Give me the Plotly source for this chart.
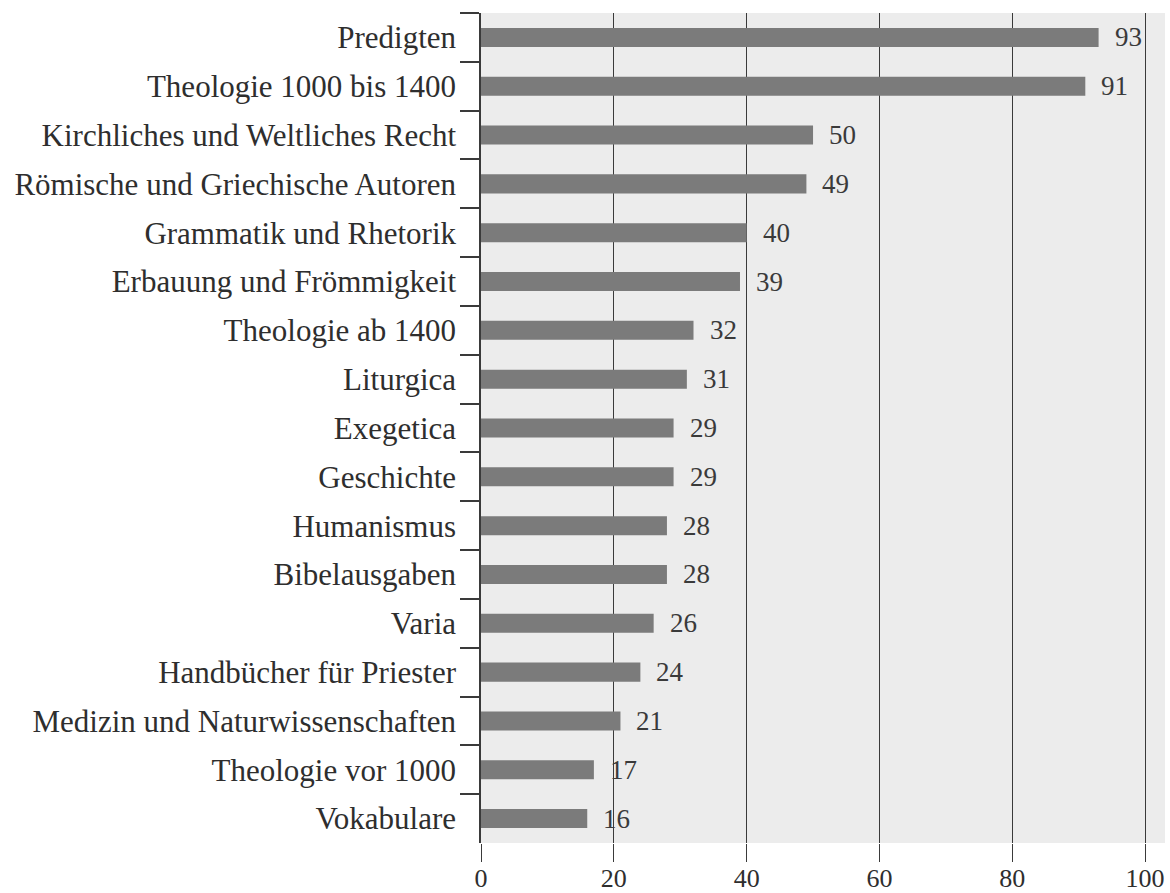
import plotly.graph_objects as go

categories = [
    "Predigten", "Theologie 1000 bis 1400", "Kirchliches und Weltliches Recht",
    "Römische und Griechische Autoren", "Grammatik und Rhetorik",
    "Erbauung und Frömmigkeit", "Theologie ab 1400", "Liturgica", "Exegetica",
    "Geschichte", "Humanismus", "Bibelausgaben", "Varia",
    "Handbücher für Priester", "Medizin und Naturwissenschaften",
    "Theologie vor 1000", "Vokabulare",
]
values = [93, 91, 50, 49, 40, 39, 32, 31, 29, 29, 28, 28, 26, 24, 21, 17, 16]
x_ticks = [0, 20, 40, 60, 80, 100]

FONT = "Liberation Serif"
INK = "#2e2e2e"

fig = go.Figure(go.Bar(
    x=values, y=categories, orientation="h",
    marker=dict(color="#7b7b7b", line=dict(width=0)),
    width=0.39,
))

for c, v in zip(categories, values):
    fig.add_annotation(x=v, y=c, text=str(v), showarrow=False,
                       xanchor="left", xshift=14,
                       font=dict(family=FONT, size=27, color="#3a3a3a"))

fig.update_layout(
    width=1170, height=893,
    margin=dict(l=481, r=5, t=13, b=50),
    paper_bgcolor="white", plot_bgcolor="#ececec",
    showlegend=False,
    font=dict(family=FONT, size=30, color=INK),
)
fig.update_xaxes(
    range=[0, 103], tickvals=x_ticks, showgrid=True, gridcolor="#3a3a3a",
    gridwidth=1, zeroline=False, ticks="outside", ticklen=18, tickcolor="#3a3a3a",
    tickwidth=1, tickfont=dict(family=FONT, size=26, color=INK), showline=False,
    ticklabelstandoff=-6, automargin=False,
)
fig.update_yaxes(
    autorange=False, range=[16.5, -0.5], type="category",
    ticks="outside", ticklen=19, tickwidth=1.5, tickcolor="#3a3a3a",
    tickson="boundaries", showline=True, linecolor="#3a3a3a", linewidth=1.5,
    showgrid=False, tickfont=dict(family=FONT, size=31, color=INK),
    ticklabelstandoff=17, automargin=False,
)

fig.write_html(
    "out.html",
    config={"displayModeBar": False},
    post_script="document.body.style.margin='0';document.body.style.overflow='hidden';",
)
